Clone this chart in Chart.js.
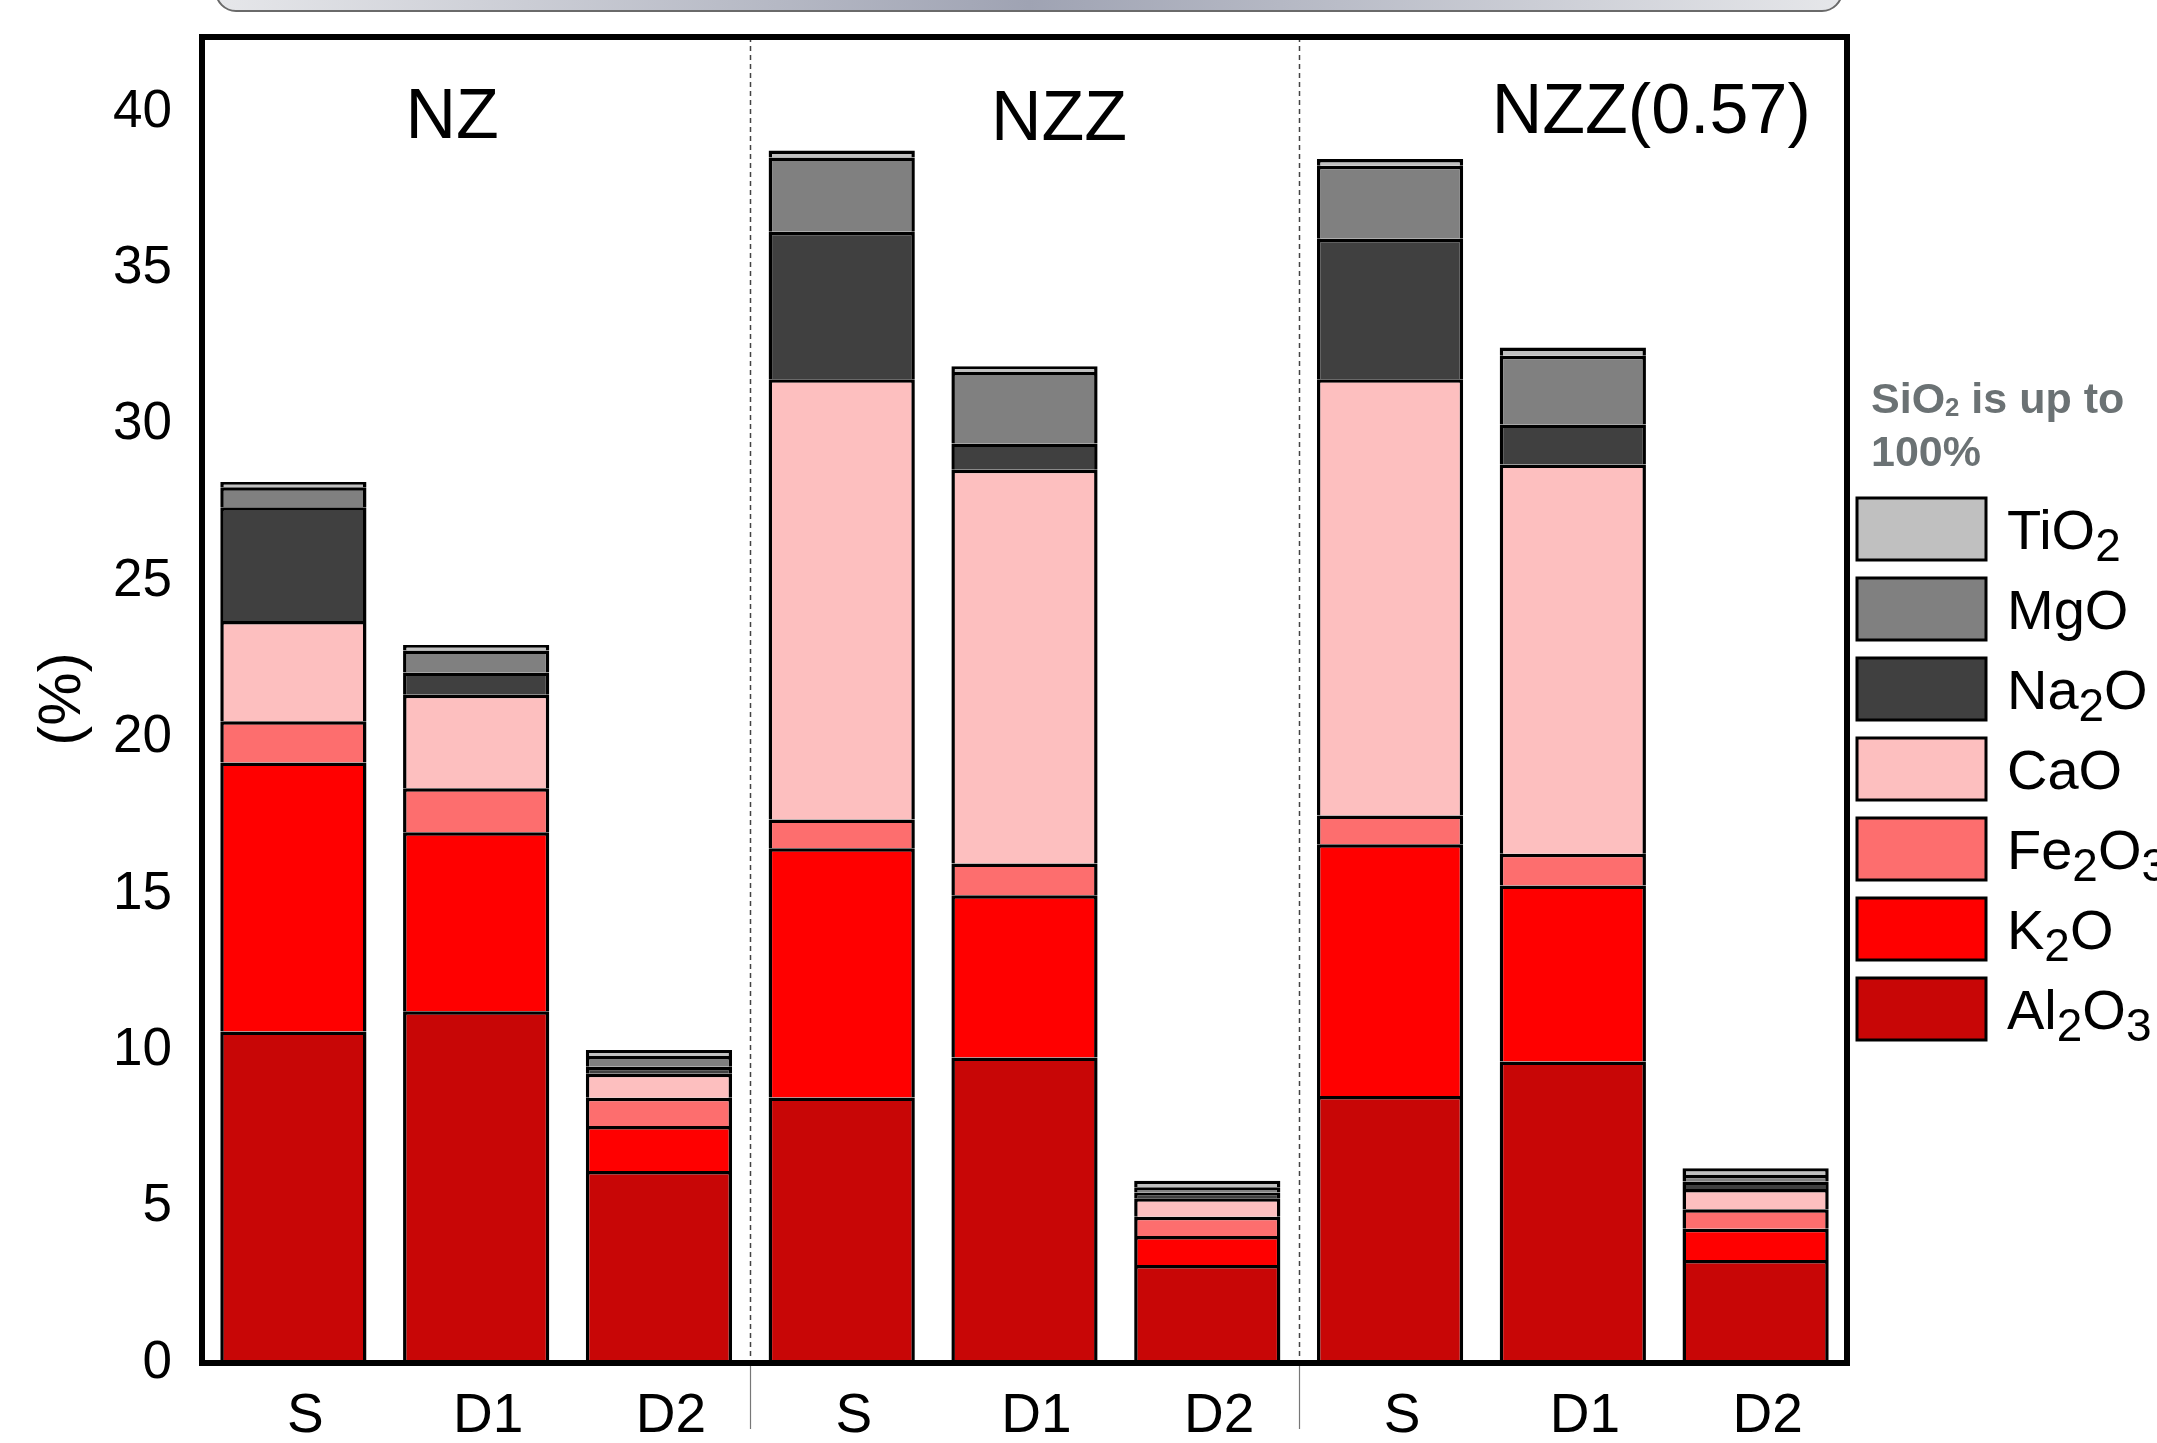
<!DOCTYPE html>
<html>
<head>
<meta charset="utf-8">
<script src="https://cdn.jsdelivr.net/npm/chart.js@4.4.1/dist/chart.umd.min.js"></script>
<style>
  body { margin: 0; background: #fff; }
  #wrap { width: 2157px; height: 1443px; position: relative; }
</style>
</head>
<body>
<div id="wrap"><canvas id="oxides"></canvas></div>
<script>
// samples along the x axis, three per material
const samples = ['S', 'D1', 'D2', 'S', 'D1', 'D2', 'S', 'D1', 'D2'];
const groups = ['NZ', 'NZZ', 'NZZ(0.57)'];
const yTicks = [0, 5, 10, 15, 20, 25, 30, 35, 40];

// oxide contents (%), stacked from the bottom up
const al2o3 = [10.60, 11.25, 6.14, 8.49, 9.77, 3.13, 8.54, 9.64, 3.29];
const k2o   = [8.60, 5.72, 1.44, 7.97, 5.19, 0.93, 8.05, 5.63, 1.00];
const fe2o3 = [1.32, 1.41, 0.90, 0.92, 1.01, 0.62, 0.92, 1.01, 0.63];
const cao   = [3.21, 2.99, 0.77, 14.08, 12.59, 0.59, 13.95, 12.45, 0.64];
const na2o  = [3.63, 0.71, 0.22, 4.71, 0.84, 0.18, 4.49, 1.28, 0.24];
const mgo   = [0.64, 0.70, 0.35, 2.38, 2.29, 0.17, 2.33, 2.20, 0.21];
const tio2  = [0.17, 0.18, 0.19, 0.22, 0.18, 0.21, 0.22, 0.26, 0.22];

const FONT = '"Liberation Sans", Arial, Helvetica, sans-serif';

function oxide(label, data, color) {
    return {
        label: label,
        data: data,
        backgroundColor: color,
        borderColor: '#000',
        borderWidth: 3.5,
        barPercentage: 0.8,
        categoryPercentage: 1.0
    };
}

const datasets = [
    oxide('Al2O3', al2o3, '#c80606'),
    oxide('K2O', k2o, '#ff0000'),
    oxide('Fe2O3', fe2o3, '#fd6e6e'),
    oxide('CaO', cao, '#fdbfbf'),
    oxide('Na2O', na2o, '#404040'),
    oxide('MgO', mgo, '#808080'),
    oxide('TiO2', tio2, '#c0c0c0')
];

// writes a formula with the digits as subscripts, returns the end x
function drawFormula(ctx, text, x, y, size, weight, subScale, subDrop) {
    let cx = x;
    text.match(/\d+|[^\d]+/g).forEach(function (part) {
        const sub = /^\d+$/.test(part);
        const s = sub ? size * subScale : size;
        ctx.font = weight + ' ' + s + 'px ' + FONT;
        ctx.fillText(part, cx, sub ? y + size * subDrop : y);
        cx += ctx.measureText(part).width;
    });
    return cx;
}

const decorations = {
    id: 'decorations',
    beforeDraw(chart) {
        const ctx = chart.ctx;
        const a = chart.chartArea;
        // cut-off banner along the top edge
        ctx.save();
        const g = ctx.createLinearGradient(a.left + 14, 0, a.right - 5, 0);
        g.addColorStop(0, '#e6e7ea');
        g.addColorStop(0.5, '#9fa3b3');
        g.addColorStop(1, '#e6e7ea');
        ctx.beginPath();
        ctx.roundRect(a.left + 14, -60, a.width - 19, 71, 20);
        ctx.fillStyle = g;
        ctx.fill();
        ctx.lineWidth = 2;
        ctx.strokeStyle = '#6a6a6a';
        ctx.stroke();
        ctx.restore();
    },
    afterDatasetsDraw(chart) {
        const ctx = chart.ctx;
        const a = chart.chartArea;
        const step = a.width / samples.length;
        ctx.save();

        // group separators: dashed inside the frame, solid below it
        [3, 6].forEach(function (i) {
            const x = Math.round(a.left + i * step) + 0.5;
            ctx.strokeStyle = '#444';
            ctx.lineWidth = 1.5;
            ctx.setLineDash([5, 4]);
            ctx.beginPath();
            ctx.moveTo(x, a.top);
            ctx.lineTo(x, a.bottom);
            ctx.stroke();
            ctx.setLineDash([]);
            ctx.strokeStyle = '#777';
            ctx.lineWidth = 1.2;
            ctx.beginPath();
            ctx.moveTo(x, a.bottom);
            ctx.lineTo(x, a.bottom + 66);
            ctx.stroke();
        });

        // frame
        ctx.strokeStyle = '#000';
        ctx.lineWidth = 6;
        ctx.strokeRect(a.left, a.top, a.width, a.height);

        // group titles
        ctx.fillStyle = '#000';
        ctx.textAlign = 'center';
        ctx.textBaseline = 'alphabetic';
        ctx.font = '70px ' + FONT;
        const titlePos = [[0.152, 138], [0.521, 140], [0.881, 133]];
        groups.forEach(function (name, i) {
            ctx.fillText(name, a.left + titlePos[i][0] * a.width, titlePos[i][1]);
        });

        // y axis title
        ctx.save();
        ctx.translate(63, 699);
        ctx.rotate(-Math.PI / 2);
        ctx.textBaseline = 'middle';
        ctx.font = '60px ' + FONT;
        ctx.fillText('(%)', 0, 0);
        ctx.restore();

        // legend, top entry = top of the stack
        const lx = a.right + 10;
        ctx.textAlign = 'left';
        ctx.fillStyle = '#6b7274';
        let end = drawFormula(ctx, 'SiO2', lx + 14, 413, 43, 'bold', 0.6, 0.08);
        ctx.font = 'bold 43px ' + FONT;
        ctx.fillText(' is up to', end, 413);
        ctx.fillText('100%', lx + 14, 466);

        const items = chart.data.datasets.slice().reverse();
        items.forEach(function (ds, i) {
            const top = 498 + i * 80;
            ctx.fillStyle = ds.backgroundColor;
            ctx.fillRect(lx, top, 129, 62);
            ctx.strokeStyle = '#000';
            ctx.lineWidth = 3;
            ctx.strokeRect(lx, top, 129, 62);
            ctx.fillStyle = '#000';
            drawFormula(ctx, ds.label, lx + 150, top + 31 + 20, 56, 'normal', 0.82, 0.21);
        });
        ctx.restore();
    }
};

new Chart(document.getElementById('oxides'), {
    type: 'bar',
    data: {
        labels: samples,
        datasets: datasets
    },
    options: {
        responsive: true,
        maintainAspectRatio: false,
        animation: false,
        devicePixelRatio: 1,
        layout: {
            padding: { top: 37, right: 310, left: 0, bottom: 0 }
        },
        plugins: {
            legend: { display: false },
            tooltip: { enabled: false }
        },
        scales: {
            x: {
                stacked: true,
                grid: { display: false, drawTicks: false },
                border: { display: false },
                ticks: {
                    color: '#000',
                    font: { family: FONT, size: 55 },
                    padding: 21,
                    labelOffset: 12,
                    maxRotation: 0,
                    autoSkip: false
                },
                afterFit(scale) {
                    scale.height = 80;
                    scale.paddingLeft = 0;
                    scale.paddingRight = 0;
                }
            },
            y: {
                stacked: true,
                min: 0,
                max: 42.4,
                grid: { display: false, drawTicks: false },
                border: { display: false },
                afterBuildTicks(scale) {
                    scale.ticks = yTicks.map(function (v) { return { value: v }; });
                },
                ticks: {
                    color: '#000',
                    font: { family: FONT, size: 53 },
                    padding: 30
                },
                afterFit(scale) {
                    scale.width = 202;
                    scale.paddingTop = 0;
                    scale.paddingBottom = 0;
                }
            }
        }
    },
    plugins: [decorations]
});
</script>
</body>
</html>
